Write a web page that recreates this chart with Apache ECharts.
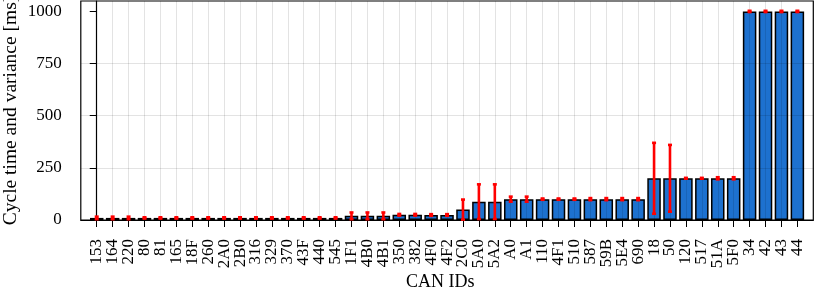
<!DOCTYPE html>
<html>
<head>
<meta charset="utf-8">
<script src="https://cdn.jsdelivr.net/npm/echarts@6/dist/echarts.min.js"></script>
<style>
html,body{margin:0;padding:0;background:#fff;}
#chart{width:814px;height:291px;}
</style>
</head>
<body>
<div id="chart"></div>
<script>
const categories = ['153','164','220','80','81','165','18F','260','2A0','2B0','316','329','370','43F','440','545','1F1','4B0','4B1','350','382','4F0','4F2','2C0','5A0','5A2','A0','A1','110','4F1','510','587','59B','5E4','690','18','50','120','517','51A','5F0','34','42','43','44'];
const cycleTimes = [10,10,10,10,10,10,10,10,10,10,10,10,10,10,10,10,20,20,20,25,25,24,24,50,88,88,100,100,100,100,100,100,100,100,100,200,200,200,200,200,200,1000,1000,1000,1000];
const variances = [6,6,6,3,3,3,3,3,3,3,3,3,3,3,3,3,16,16,16,4,4,4,4,48,83,83,12,12,3,3,3,5,5,5,5,170,160,2,2,5,5,3,3,3,3];
const yTicks = [0,250,500,750,1000];

const FONT = 'Liberation Serif';
const idx = categories.map((c, i) => i);
const barData = cycleTimes.map((v, i) => [i, v]);
const errData = cycleTimes.map((v, i) => [i, v, variances[i]]);

const chart = echarts.init(document.getElementById('chart'), null, {renderer: 'canvas'});
chart.setOption({
  animation: false,
  backgroundColor: '#fff',
  grid: {left: 80.8, right: 0.7, top: 1, bottom: 71, outerBoundsMode: 'none', containLabel: false,
    show: true, borderColor: '#000', borderWidth: 1.2, backgroundColor: 'transparent'},
  graphic: [{
    type: 'text', left: 406, top: 273, z: 20,
    style: {text: 'CAN IDs', fontFamily: FONT, fontSize: 18, fill: '#000'}
  }],
  xAxis: {
    type: 'value', min: -1, max: 45, interval: 1, z: 3,
    axisLine: {show: true, onZero: false, lineStyle: {color: '#000', width: 1.2}},
    axisTick: {show: true, length: 7, customValues: idx, lineStyle: {color: '#000', width: 1}},
    axisLabel: {rotate: 90, margin: 19, fontFamily: FONT, fontSize: 17, lineHeight: 12, color: '#000',
      interval: 0, showMinLabel: false, showMaxLabel: false, hideOverlap: false,
      formatter: v => (categories[v] !== undefined ? categories[v] : '')},
    splitLine: {show: true, showMinLine: false, showMaxLine: false, lineStyle: {color: 'rgba(0,0,0,0.11)', width: 1}}
  },
  yAxis: {
    type: 'value', min: 0, max: 1050, interval: 250, z: 3,
    axisLine: {show: true, lineStyle: {color: '#000', width: 1.2}},
    axisTick: {show: true, length: 7, customValues: yTicks, lineStyle: {color: '#000', width: 1}},
    axisLabel: {customValues: yTicks, margin: 19, fontFamily: FONT, fontSize: 17, color: '#000',
      showMinLabel: true, showMaxLabel: true, formatter: v => String(v)},
    splitLine: {show: true, showMinLine: false, showMaxLine: false, lineStyle: {color: 'rgba(0,0,0,0.11)', width: 1}},
    name: 'Cycle time and variance [ms]', nameLocation: 'middle', nameGap: 60, nameRotate: 90, nameMoveOverlap: false,
    nameTextStyle: {fontFamily: FONT, fontSize: 19.5, color: '#000'}
  },
  series: [
    {
      type: 'bar', data: barData, barWidth: 13.5, z: 2,
      itemStyle: {color: '#1d71cf', borderColor: '#000', borderWidth: 1.5}
    },
    {
      type: 'custom', z: 10, data: errData,
      renderItem: function (params, api) {
        const x = api.value(0), v = api.value(1), e = api.value(2);
        const lo = api.coord([x, v - e]);
        const hi = api.coord([x, v + e]);
        const cw = 2;
        const st = {stroke: '#ff0000', lineWidth: 2.6};
        return {
          type: 'group',
          children: [
            {type: 'line', shape: {x1: lo[0], y1: lo[1], x2: hi[0], y2: hi[1]}, style: st},
            {type: 'line', shape: {x1: lo[0] - cw, y1: lo[1], x2: lo[0] + cw, y2: lo[1]}, style: st},
            {type: 'line', shape: {x1: hi[0] - cw, y1: hi[1], x2: hi[0] + cw, y2: hi[1]}, style: st}
          ]
        };
      }
    }
  ]
});
</script>
</body>
</html>
